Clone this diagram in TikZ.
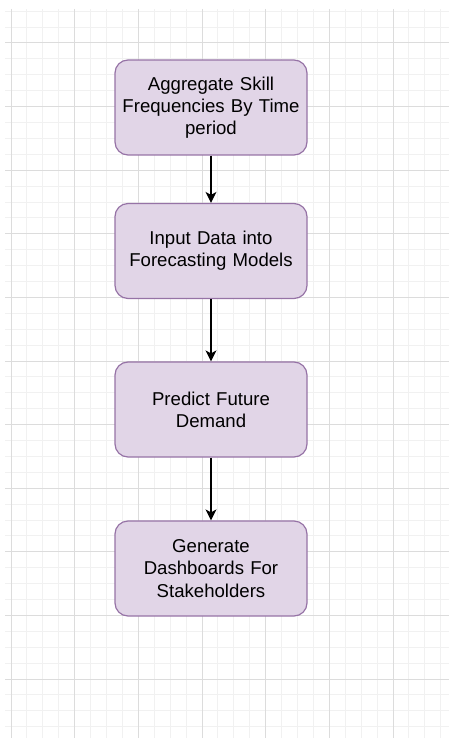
\documentclass[tikz,border=0pt]{standalone}
\usepackage{fontspec}
\setmainfont{Liberation Sans}
\usetikzlibrary{arrows.meta}
\definecolor{boxfill}{HTML}{E1D5E7}
\definecolor{boxline}{HTML}{9673A6}
\definecolor{gridminor}{HTML}{F1F1F1}
\definecolor{gridmajor}{HTML}{DCDCDC}
\begin{document}
\begin{tikzpicture}[x=1pt,y=-1pt,
  stepbox/.style={draw=boxline, fill=boxfill, line width=1.2pt,
    rounded corners=13pt, minimum width=192pt, minimum height=95pt,
    align=center, text width=186pt, inner sep=0pt,
    font=\fontsize{18.6}{22.3}\selectfont},
  flow/.style={-{Stealth[length=11pt,width=11pt,inset=3pt]}, line width=1.3pt}]
\useasboundingbox (0,0) rectangle (449,738);
% background grid
\begin{scope}
  \clip (5,9) rectangle (449,738);
  \foreach \k in {0,...,27}
    \draw[gridminor, line width=1pt] ({11+15.917*\k},9) -- ({11+15.917*\k},738);
  \foreach \k in {0,...,45}
    \draw[gridminor, line width=1pt] (5,{11.2+15.9*\k}) -- (449,{11.2+15.9*\k});
  \foreach \k in {0,...,6}
    \draw[gridmajor, line width=1pt] ({11+63.67*\k},9) -- ({11+63.67*\k},738);
  \foreach \k in {0,...,10}
    \draw[gridmajor, line width=1pt] (5,{43+63.6*\k}) -- (449,{43+63.6*\k});
\end{scope}
% process steps
\node[stepbox] (agg) at (211,107.5) {Aggregate Skill\\Frequencies By Time\\period};
\node[stepbox] (inp) at (211,251) {Input Data into\\Forecasting Models};
\node[stepbox] (pred) at (211,409.5) {Predict Future\\Demand};
\node[stepbox] (gen) at (211,568.5) {Generate\\Dashboards For\\Stakeholders};
% connectors
\draw[flow] (agg) -- (inp);
\draw[flow] (inp) -- (pred);
\draw[flow] (pred) -- (gen);
\end{tikzpicture}
\end{document}
